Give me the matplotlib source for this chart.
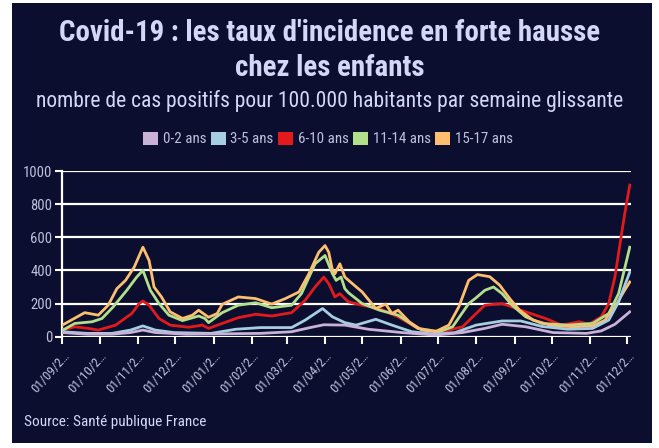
import matplotlib
matplotlib.use("Agg")
import matplotlib.pyplot as plt
from matplotlib import font_manager
from matplotlib.patches import Patch, Rectangle
import numpy as np
import pandas as pd

# --- Données (jours depuis le 01/09/2020, taux pour 100.000 hab.) ---
START = pd.Timestamp("2020-09-01")

jours_0_2 = [0, 20, 40, 55, 65, 75, 100, 160, 185, 200, 211, 228, 247, 274, 301,
             323, 341, 355, 374, 396, 423, 435, 446, 458]
taux_0_2 = [25, 15, 15, 25, 40, 25, 15, 20, 30, 55, 72, 70, 45, 25, 10,
            25, 50, 75, 60, 25, 20, 35, 75, 150]

jours_3_5 = [0, 20, 40, 55, 65, 75, 90, 120, 140, 160, 185, 196, 210, 218, 228,
             237, 253, 266, 282, 301, 317, 334, 355, 370, 387, 408, 428, 441,
             449, 458]
taux_3_5 = [30, 20, 20, 40, 65, 40, 25, 20, 45, 55, 55, 100, 170, 120, 85,
            70, 105, 70, 30, 15, 25, 70, 95, 95, 62, 45, 50, 100,
            210, 390]

jours_6_10 = [0, 10, 21, 29, 43, 56, 62, 65, 70, 78, 87, 102, 113, 118, 129,
              142, 156, 169, 185, 196, 204, 211, 215, 220, 224, 228, 231, 242,
              256, 271, 287, 306, 323, 334, 341, 355, 363, 374, 390, 403, 417,
              425, 435, 441, 446, 452, 454, 458]
taux_6_10 = [40, 60, 50, 40, 70, 140, 200, 215, 190, 110, 70, 57, 70, 50, 80,
             115, 135, 125, 145, 220, 300, 360, 320, 240, 260, 230, 210, 190,
             170, 120, 50, 30, 60, 140, 190, 200, 180, 150, 110, 70, 90,
             75, 120, 200, 360, 650, 745, 915]

jours_11_14 = [0, 10, 24, 32, 41, 52, 60, 65, 71, 78, 86, 97, 110, 115, 118,
               129, 142, 156, 169, 185, 193, 204, 212, 218, 221, 225, 228, 231,
               242, 256, 271, 287, 304, 315, 328, 334, 341, 348, 355, 363, 374,
               387, 408, 428, 441, 449, 458]
taux_11_14 = [38, 80, 90, 110, 180, 280, 360, 400, 280, 200, 130, 97, 125, 110, 85,
              145, 190, 205, 175, 190, 260, 440, 490, 380, 340, 360, 290, 265,
              200, 160, 130, 50, 30, 60, 200, 235, 280, 300, 260, 190, 120,
              80, 70, 80, 140, 260, 540]

jours_15_17 = [0, 18, 29, 37, 44, 51, 58, 65, 70, 74, 80, 87, 97, 105, 110,
               118, 125, 129, 142, 156, 169, 180, 191, 199, 207, 212, 215, 218,
               220, 224, 228, 231, 242, 253, 261, 266, 271, 280, 290, 301, 312,
               320, 328, 335, 345, 353, 361, 369, 380, 396, 414, 428, 438, 446,
               453, 458]
taux_15_17 = [70, 145, 130, 190, 290, 340, 420, 540, 460, 300, 240, 150, 110, 130, 160,
              117, 140, 195, 240, 230, 197, 230, 270, 380, 510, 550, 510, 400,
              380, 440, 360, 340, 270, 170, 197, 140, 160, 90, 40, 30, 70,
              180, 340, 375, 362, 311, 231, 160, 100, 65, 60, 65, 100, 180,
              270, 330]

series = [
    ("0-2 ans", jours_0_2, taux_0_2, "#cab2d6"),
    ("3-5 ans", jours_3_5, taux_3_5, "#a6cee3"),
    ("6-10 ans", jours_6_10, taux_6_10, "#e31a1c"),
    ("11-14 ans", jours_11_14, taux_11_14, "#b2df8a"),
    ("15-17 ans", jours_15_17, taux_15_17, "#fdbf6f"),
]
ordre_z = {"6-10 ans": 3, "11-14 ans": 4, "15-17 ans": 5, "3-5 ans": 6, "0-2 ans": 7}

mois = pd.date_range("2020-09-01", "2021-12-01", freq="MS")
etiquettes_mois = [d.strftime("%d/%m/2") + "…" for d in mois]

# --- Police ---
dispo = {f.name for f in font_manager.fontManager.ttflist}
police = next((p for p in ["Roboto Condensed", "Liberation Sans Narrow", "Roboto"] if p in dispo),
              "DejaVu Sans")
plt.rcParams["font.family"] = [police, "DejaVu Sans"]

FOND = "#0b0e2f"
TXT = "#d6d6f6"
TXT2 = "#bfc0dc"

W, H = 659, 448
fig = plt.figure(figsize=(W / 100, H / 100), dpi=100, facecolor="white")
fig.patches.append(Rectangle((12 / W, 1 - 443 / H), 640 / W, 440 / H,
                             transform=fig.transFigure, facecolor=FOND,
                             edgecolor="none", zorder=-10))

ax = fig.add_axes([62 / W, 1 - 336.7 / H, (631 - 62) / W, (336.7 - 171) / H])
ax.set_facecolor(FOND)

for nom, jours, taux, coul in series:
    dates = START + pd.to_timedelta(jours, unit="D")
    ax.plot(dates, taux, color=coul, lw=2, zorder=ordre_z[nom], solid_joinstyle="round")

ax.set_ylim(0, 1000)
ax.set_xlim(START - pd.Timedelta(days=0.3), pd.Timestamp("2021-12-04"))
ax.set_yticks(np.arange(0, 1001, 200))
ax.set_xticks(mois)
ax.set_xticklabels(etiquettes_mois, rotation=48, ha="right", rotation_mode="anchor")
ax.grid(axis="y", color="white", lw=1.6, zorder=1)
ax.grid(axis="x", visible=False)
for s in ["top", "right", "bottom"]:
    ax.spines[s].set_visible(False)
ax.spines["left"].set_color("white")
ax.spines["left"].set_linewidth(1.6)
ax.tick_params(axis="both", colors="white", width=1.5, length=5, labelcolor=TXT2)
ax.tick_params(axis="y", labelsize=10.5, pad=2)
ax.tick_params(axis="x", labelsize=9.5, pad=4)

# --- Titres ---
fig.text(0.5, 1 - 33 / H, "Covid-19 : les taux d'incidence en forte hausse",
         ha="center", va="center", fontsize=20.8, fontweight="bold", color=TXT)
fig.text(0.5, 1 - 68 / H, "chez les enfants",
         ha="center", va="center", fontsize=20.8, fontweight="bold", color=TXT)
fig.text(0.5, 1 - 101 / H,
         "nombre de cas positifs pour 100.000 habitants par semaine glissante",
         ha="center", va="center", fontsize=15.5, color=TXT)

poignees = [Patch(facecolor=c, edgecolor="none", label=n) for n, _, _, c in series]
fig.legend(handles=poignees, loc="center", bbox_to_anchor=(328 / W, 1 - 139 / H),
           ncol=5, frameon=False, fontsize=10.8, labelcolor=TXT2,
           handlelength=1.0, handleheight=1.0, handletextpad=0.3, columnspacing=0.3)

fig.text(24 / W, 1 - 422 / H, "Source: Santé publique France",
         ha="left", va="center", fontsize=11, color=TXT)

fig.savefig("out.png", dpi=100, facecolor="white")
